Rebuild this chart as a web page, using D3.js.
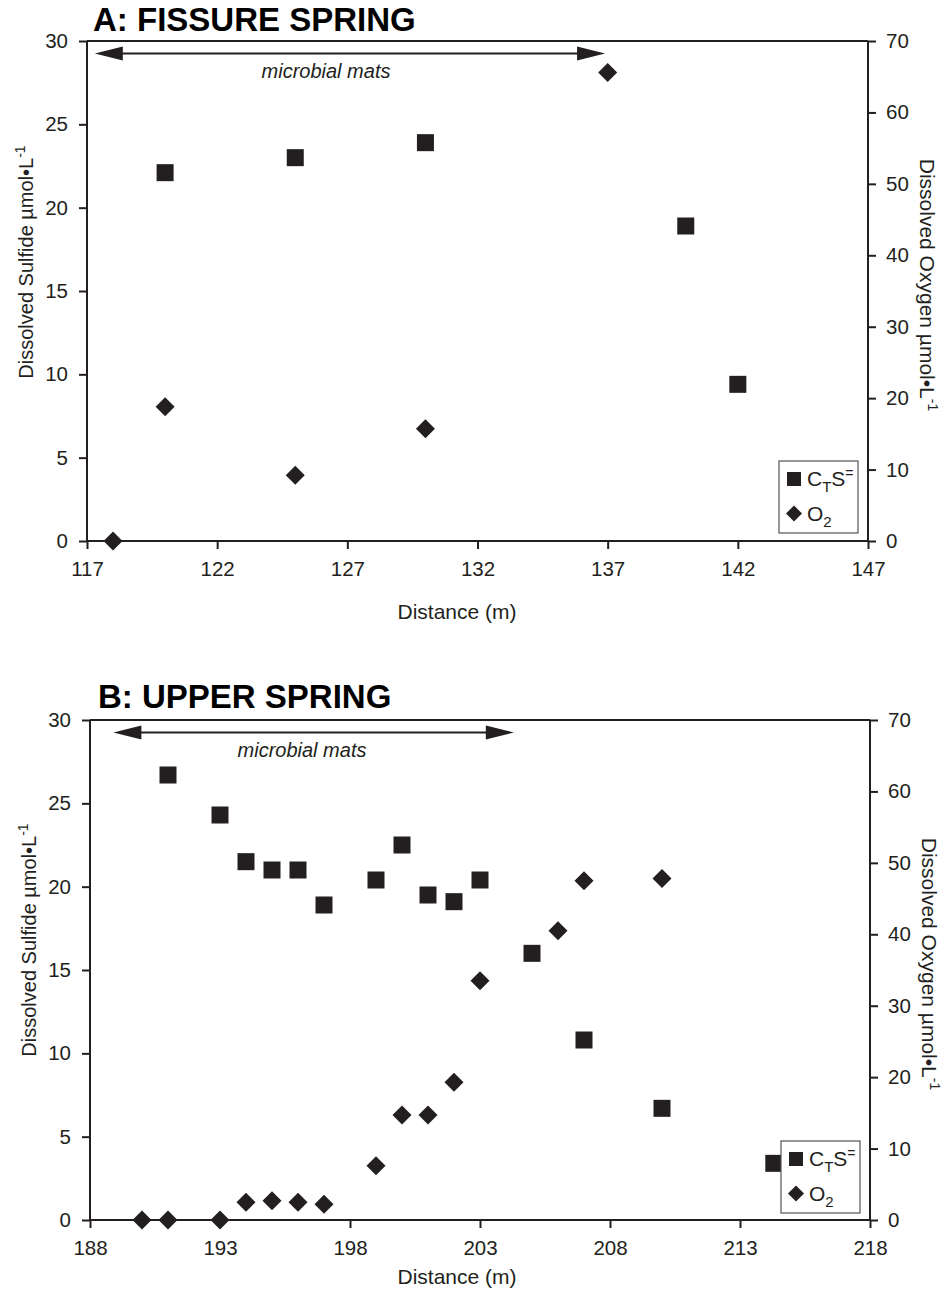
<!DOCTYPE html>
<html>
<head>
<meta charset="utf-8">
<script src="https://cdn.jsdelivr.net/npm/d3@7"></script>
<style>
  body { margin: 0; background: #fff; }
  svg { font-family: "Liberation Sans", Arial, sans-serif; }
</style>
</head>
<body>
<div id="chart"></div>
<script>
// panel A: fissure spring
const fissureSulfideDist = [120, 125, 130, 140, 142];
const fissureSulfide = [22.1, 23.0, 23.9, 18.9, 9.4];
const fissureO2Dist = [118, 120, 125, 130, 137];
const fissureO2 = [0, 18.8, 9.2, 15.7, 65.6];
const fissureMats = [117.3, 136.9];
const fissureXTicks = [117, 122, 127, 132, 137, 142, 147];

// panel B: upper spring
const upperSulfideDist = [191, 193, 194, 195, 196, 197, 199, 200, 201, 202, 203, 205, 207, 210, 214.3];
const upperSulfide = [26.7, 24.3, 21.5, 21.0, 21.0, 18.9, 20.4, 22.5, 19.5, 19.1, 20.4, 16.0, 10.8, 6.7, 3.4];
const upperO2Dist = [190, 191, 193, 194, 195, 196, 197, 199, 200, 201, 202, 203, 206, 207, 210];
const upperO2 = [0, 0, 0, 2.5, 2.7, 2.5, 2.2, 7.6, 14.7, 14.7, 19.3, 33.5, 40.5, 47.5, 47.8];
const upperMats = [188.9, 204.3];
const upperXTicks = [188, 193, 198, 203, 208, 213, 218];

const sulfideTicks = [0, 5, 10, 15, 20, 25, 30];
const o2Ticks = [0, 10, 20, 30, 40, 50, 60, 70];

const ink = '#231f20';

var svg = d3.select('#chart').append('svg')
    .attr('width', 948)
    .attr('height', 1297);

function drawPanel(p) {
    var x = d3.scaleLinear()
        .domain([p.xTicks[0], p.xTicks[p.xTicks.length - 1]])
        .range([p.left, p.right]);
    var yL = d3.scaleLinear().domain([0, 30]).range([p.bottom, p.top]);
    var yR = d3.scaleLinear().domain([0, 70]).range([p.bottom, p.top]);

    var g = svg.append('g');

    // frame top line
    g.append('line')
        .attr('x1', p.left).attr('x2', p.right)
        .attr('y1', p.top).attr('y2', p.top)
        .attr('stroke', ink).attr('stroke-width', 2);

    var bottomAxis = g.append('g')
        .attr('transform', 'translate(0,' + p.bottom + ')')
        .call(d3.axisBottom(x).tickValues(p.xTicks).tickSize(8).tickPadding(10).tickFormat(d3.format('d')));
    var leftAxis = g.append('g')
        .attr('transform', 'translate(' + p.left + ',0)')
        .call(d3.axisLeft(yL).tickValues(sulfideTicks).tickSize(8).tickPadding(11));
    var rightAxis = g.append('g')
        .attr('transform', 'translate(' + p.right + ',0)')
        .call(d3.axisRight(yR).tickValues(o2Ticks).tickSize(8).tickPadding(10));

    [bottomAxis, leftAxis, rightAxis].forEach(function(a) {
        a.select('.domain').attr('stroke', ink).attr('stroke-width', 2);
        a.selectAll('.tick line').attr('stroke', ink).attr('stroke-width', 2);
        a.selectAll('.tick text').attr('font-size', 20.5).attr('fill', ink);
    });
    // plain axis lines (no end caps)
    bottomAxis.select('.domain').attr('d', 'M' + p.left + ',0H' + p.right);
    leftAxis.select('.domain').attr('d', 'M0,' + p.top + 'V' + p.bottom);
    rightAxis.select('.domain').attr('d', 'M0,' + p.top + 'V' + p.bottom);
    bottomAxis.selectAll('.tick text').attr('dy', '0.85em');

    // title
    g.append('text')
        .attr('x', p.titleX).attr('y', p.titleY)
        .attr('font-size', 33).attr('font-weight', 'bold').attr('fill', '#000')
        .text(p.title);

    // microbial mats arrow
    var ay = p.top + 12.5;
    var x0 = x(p.mats[0]), x1 = x(p.mats[1]);
    g.append('line')
        .attr('x1', x0 + 20).attr('x2', x1 - 20)
        .attr('y1', ay).attr('y2', ay)
        .attr('stroke', ink).attr('stroke-width', 2);
    var head = d3.line();
    g.append('path')
        .attr('d', head([[x0, ay], [x0 + 28, ay - 7], [x0 + 28, ay + 7]]) + 'Z')
        .attr('fill', ink);
    g.append('path')
        .attr('d', head([[x1, ay], [x1 - 28, ay - 7], [x1 - 28, ay + 7]]) + 'Z')
        .attr('fill', ink);
    g.append('text')
        .attr('x', p.matsLabelX).attr('y', ay + 24)
        .attr('text-anchor', 'middle')
        .attr('font-size', 20).attr('font-style', 'italic').attr('fill', ink)
        .text('microbial mats');

    // axis titles
    g.append('text')
        .attr('x', p.distX).attr('y', p.distY)
        .attr('text-anchor', 'middle').attr('font-size', 21).attr('fill', ink)
        .text('Distance (m)');

    var lt = g.append('text')
        .attr('transform', 'translate(' + (p.left - 54) + ',' + p.leftLabelY + ') rotate(-90)')
        .attr('text-anchor', 'middle').attr('font-size', 20).attr('fill', ink);
    lt.append('tspan').text('Dissolved Sulfide µmol•L');
    lt.append('tspan').attr('dy', -8).attr('font-size', 14).text('-1');

    var rt = g.append('text')
        .attr('transform', 'translate(' + (p.right + 52) + ',' + p.rightLabelY + ') rotate(90)')
        .attr('text-anchor', 'middle').attr('font-size', 21).attr('fill', ink);
    rt.append('tspan').text('Dissolved Oxygen µmol•L');
    rt.append('tspan').attr('dy', -8).attr('font-size', 14).text('-1');

    // data: sulfide squares
    var s = 17;
    var sulf = p.sulfideDist.map(function(d, i) { return { x: d, y: p.sulfide[i] }; });
    g.selectAll('rect.sulf').data(sulf).enter().append('rect')
        .attr('class', 'sulf')
        .attr('x', function(d) { return x(d.x) - s / 2; })
        .attr('y', function(d) { return yL(d.y) - s / 2; })
        .attr('width', s).attr('height', s)
        .attr('fill', ink);

    // data: oxygen diamonds
    var ox = p.o2Dist.map(function(d, i) { return { x: d, y: p.o2[i] }; });
    var r = 9.5;
    g.selectAll('path.o2').data(ox).enter().append('path')
        .attr('class', 'o2')
        .attr('d', function(d) {
            var cx = x(d.x), cy = yR(d.y);
            return 'M' + cx + ',' + (cy - r) + 'L' + (cx + r) + ',' + cy +
                'L' + cx + ',' + (cy + r) + 'L' + (cx - r) + ',' + cy + 'Z';
        })
        .attr('fill', ink);

    // legend
    var lg = g.append('g').attr('transform', 'translate(' + p.legX + ',' + p.legY + ')');
    lg.append('rect')
        .attr('width', 79).attr('height', 72)
        .attr('fill', '#fff').attr('stroke', '#555').attr('stroke-width', 1.2);
    lg.append('rect').attr('x', 8).attr('y', 11).attr('width', 14).attr('height', 14).attr('fill', ink);
    var t1 = lg.append('text').attr('x', 28).attr('y', 25).attr('font-size', 21).attr('fill', ink);
    t1.append('tspan').text('C');
    t1.append('tspan').attr('font-size', 15).attr('dy', 6).text('T');
    t1.append('tspan').attr('dy', -6).text('S');
    t1.append('tspan').attr('font-size', 14).attr('dy', -8).text('=');
    lg.append('path').attr('d', 'M15,44.5L23,52.5L15,60.5L7,52.5Z').attr('fill', ink);
    var t2 = lg.append('text').attr('x', 28).attr('y', 60).attr('font-size', 21).attr('fill', ink);
    t2.append('tspan').text('O');
    t2.append('tspan').attr('font-size', 15).attr('dy', 6).text('2');
}

drawPanel({
    title: 'A: FISSURE SPRING', titleX: 93, titleY: 31,
    left: 87, right: 868, top: 41, bottom: 541,
    xTicks: fissureXTicks,
    sulfideDist: fissureSulfideDist, sulfide: fissureSulfide,
    o2Dist: fissureO2Dist, o2: fissureO2,
    mats: fissureMats, matsLabelX: 326,
    distX: 457, distY: 619,
    leftLabelY: 262, rightLabelY: 285,
    legX: 779, legY: 461
});

drawPanel({
    title: 'B: UPPER SPRING', titleX: 98, titleY: 708,
    left: 90, right: 870, top: 720, bottom: 1220,
    xTicks: upperXTicks,
    sulfideDist: upperSulfideDist, sulfide: upperSulfide,
    o2Dist: upperO2Dist, o2: upperO2,
    mats: upperMats, matsLabelX: 302,
    distX: 457, distY: 1284,
    leftLabelY: 940, rightLabelY: 964,
    legX: 781, legY: 1141
});
</script>
</body>
</html>
